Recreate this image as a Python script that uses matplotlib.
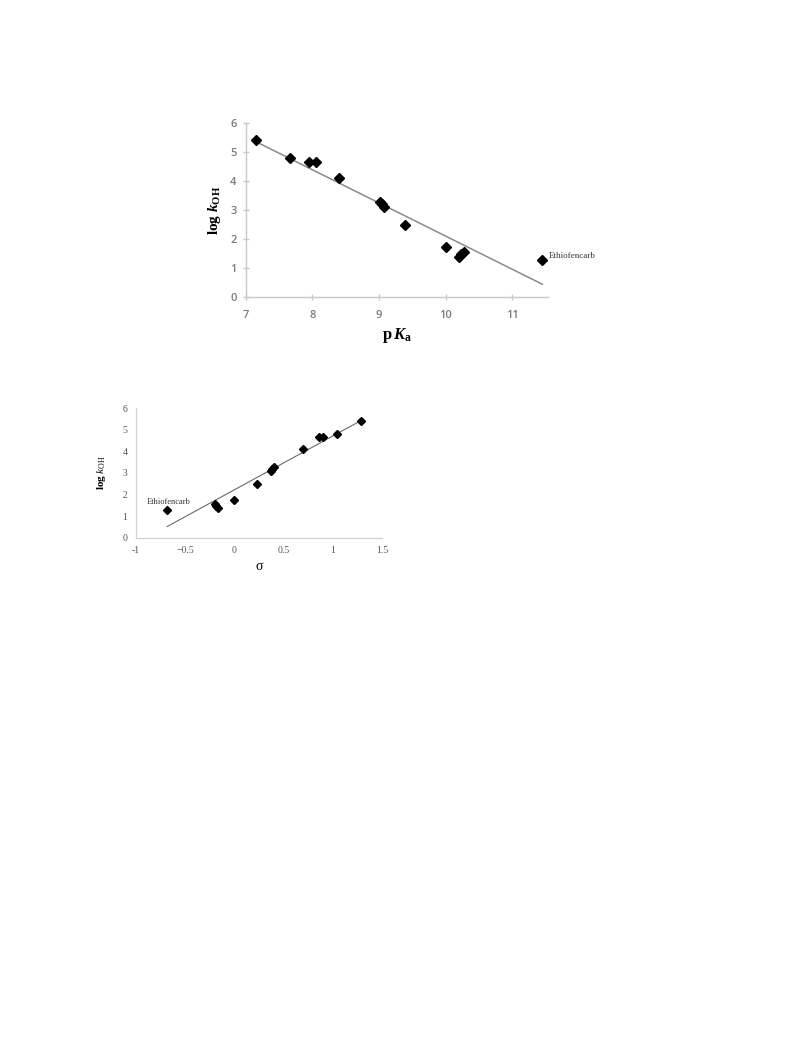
import matplotlib

matplotlib.use("Agg")
import matplotlib.pyplot as plt
import matplotlib.transforms as mtransforms

# pKa / sigma / log kOH for the carbamates, Ethiofencarb last
pka = [7.15, 7.67, 7.95, 8.05, 8.40, 9.02, 9.05, 9.08, 9.39, 10.00, 10.20, 10.23, 10.27, 11.45]
sigma = [1.28, 1.04, 0.86, 0.90, 0.70, 0.40, 0.38, 0.37, 0.23, 0.00, -0.17, -0.19, -0.20, -0.68]
log_koh = [5.42, 4.82, 4.67, 4.65, 4.12, 3.27, 3.20, 3.10, 2.50, 1.73, 1.40, 1.48, 1.57, 1.30]

# fitted trend lines (end points)
fit_pka_x = [7.15, 11.45]
fit_pka_y = [5.37, 0.45]
fit_sigma_x = [-0.68, 1.28]
fit_sigma_y = [0.52, 5.42]

plt.rcParams["mathtext.fontset"] = "custom"
plt.rcParams["mathtext.rm"] = "Liberation Serif"
plt.rcParams["mathtext.it"] = "Liberation Serif:italic"
plt.rcParams["mathtext.bf"] = "Liberation Serif:bold"
plt.rcParams["mathtext.bfit"] = "Liberation Serif:italic:bold"

W, H = 792, 1056
fig = plt.figure(figsize=(W / 100, H / 100), dpi=100)

axis_grey = "#c8c8c8"
label_grey = "#7a7a7a"
serif = ["Liberation Serif", "DejaVu Serif"]


def box(left, top, right, bottom):
    return [left / W, 1 - bottom / H, (right - left) / W, (bottom - top) / H]


# --- top panel: log kOH vs pKa ---
ax1 = fig.add_axes(box(245.7, 123.3, 547.7, 297.3))
ax1.plot(fit_pka_x, fit_pka_y, color="#8a8a8a", lw=1.1, zorder=2)
ax1.plot(pka, log_koh, ls="none", marker="D", ms=5, color="black", zorder=3)
ax1.set_xlim(7, 11.53)
ax1.set_ylim(0, 6)
ax1.set_xticks([7, 8, 9, 10, 11])
ax1.set_yticks(range(7))
for s in ["top", "right"]:
    ax1.spines[s].set_visible(False)
for s in ["left", "bottom"]:
    ax1.spines[s].set_color(axis_grey)
    ax1.spines[s].set_linewidth(1.0)
ax1.tick_params(direction="inout", length=5, width=1, color=axis_grey,
                labelcolor=label_grey, labelsize=8, pad=4)
ax1.tick_params(axis="x", pad=7)
for t in ax1.get_xticklabels() + ax1.get_yticklabels():
    t.set_family(["Open Sans", "DejaVu Sans"])
    t.set_fontweight("semibold")
ax1.set_ylabel(r"$\mathbf{log}\ \mathbfit{k}_{\mathbf{OH}}$", fontsize=11, labelpad=5)
ax1.set_xlabel(r"$\mathbf{p}\,\mathbfit{K}_{\mathbf{a}}$", fontsize=12, labelpad=3)
ax1.text(pka[-1] + 0.1, log_koh[-1] + 0.12, "Ethiofencarb", family=serif,
         fontsize=6.5, color="#333333", va="center", ha="left", clip_on=False)

# --- bottom panel: log kOH vs sigma ---
ax2 = fig.add_axes(box(135.7, 408.3, 382.3, 537.7))
ax2.plot(fit_sigma_x, fit_sigma_y, color="#6a6a6a", lw=0.8, zorder=2)
ax2.plot(sigma, log_koh, ls="none", marker="D", ms=3.6, color="black", zorder=3)
ax2.set_xlim(-1, 1.5)
ax2.set_ylim(0, 6)
ax2.set_xticks([-1, -0.5, 0, 0.5, 1, 1.5])
ax2.set_xticklabels(["-1", "\u22120.5", "0", "0.5", "1", "1.5"])
ax2.set_yticks(range(7))
for s in ["top", "right"]:
    ax2.spines[s].set_visible(False)
for s in ["left", "bottom"]:
    ax2.spines[s].set_color("#d0d0d0")
    ax2.spines[s].set_linewidth(0.9)
ax2.tick_params(length=0, labelcolor="#555555", labelsize=7, pad=6)
for t in ax2.get_xticklabels() + ax2.get_yticklabels():
    t.set_family(serif)
ax2.set_ylabel(r"$\mathbf{log}\ \mathit{k}_{\mathrm{OH}}$", fontsize=8, labelpad=10)
# sigma label sits low, right at the lower edge of the source crop
blend = mtransforms.blended_transform_factory(ax2.transData, fig.transFigure)
ax2.text(0.25, 1 - 566 / H, "\u03c3", family=serif, fontsize=10,
         ha="center", va="center", transform=blend)
ax2.text(-0.885, 1.65, "Ethiofencarb", family=serif, fontsize=6,
         color="#333333", va="center", ha="left")

fig.savefig("out.png", dpi=100)
